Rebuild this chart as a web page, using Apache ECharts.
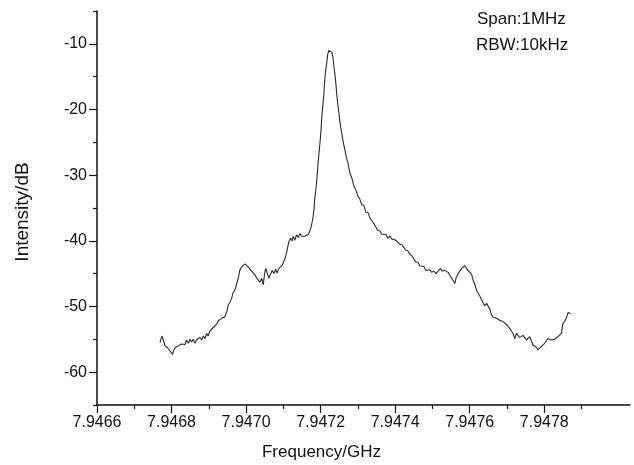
<!DOCTYPE html>
<html>
<head>
<meta charset="utf-8">
<script src="https://cdn.jsdelivr.net/npm/echarts@6/dist/echarts.min.js"></script>
<style>html,body{margin:0;padding:0;background:#fff;}#c{width:634px;height:465px;}</style>
</head>
<body>
<div id="c"></div>
<script>
// Frequency (GHz) of each sample
const freqGHz = [
7.946769,7.946774,7.946778,7.946782,7.946787,7.946791,7.946796,7.946803,7.946806,7.946811,
7.946814,7.946818,7.946823,7.946827,7.946831,7.946836,7.946840,7.946845,7.946849,7.946854,
7.946858,7.946863,7.946867,7.946872,7.946876,7.946881,7.946885,7.946890,7.946894,7.946898,
7.946903,7.946908,7.946912,7.946916,7.946921,7.946925,7.946930,7.946934,7.946939,7.946943,
7.946948,7.946952,7.946957,7.946961,7.946965,7.946970,7.946975,7.946979,7.946983,7.946988,
7.946992,7.946997,7.947001,7.947006,7.947010,7.947015,7.947019,7.947024,7.947028,7.947032,
7.947037,7.947042,7.947046,7.947050,7.947053,7.947057,7.947061,7.947066,7.947070,7.947075,
7.947079,7.947083,7.947088,7.947093,7.947097,7.947101,7.947106,7.947110,7.947115,7.947119,
7.947124,7.947126,7.947131,7.947135,7.947140,
7.947144,7.947149,7.947153,7.947158,7.947162,7.947167,7.947171,7.947175,
7.947179,7.947182,7.947184,7.947187,7.947190,7.947192,7.947195,7.947198,7.947201,7.947203,
7.947206,7.947209,7.947211,7.947214,7.947217,7.947219,7.947222,7.947225,7.947227,7.947230,
7.947233,7.947235,7.947238,7.947241,7.947243,7.947246,7.947249,
7.947253,7.947257,7.947261,7.947265,7.947269,7.947273,
7.947278,7.947284,7.947289,7.947294,7.947300,7.947305,7.947310,7.947316,7.947321,7.947327,
7.947332,7.947337,7.947343,
7.947348,7.947353,7.947359,7.947364,7.947369,7.947375,7.947380,7.947386,7.947391,7.947396,
7.947402,7.947407,7.947412,7.947418,7.947423,7.947428,7.947434,7.947439,7.947445,7.947450,
7.947455,7.947461,7.947466,7.947471,7.947477,7.947482,7.947487,7.947493,7.947498,7.947504,
7.947509,7.947514,
7.947522,7.947525,7.947528,7.947533,7.947538,7.947542,7.947546,7.947551,7.947555,7.947560,
7.947564,7.947569,7.947573,7.947578,7.947582,7.947587,7.947591,7.947595,7.947600,7.947605,
7.947609,7.947613,7.947618,7.947622,7.947627,7.947631,7.947636,7.947640,7.947645,7.947649,
7.947654,7.947658,7.947662,7.947667,7.947672,7.947676,7.947680,7.947685,7.947689,7.947694,
7.947698,7.947703,7.947707,7.947712,7.947716,7.947721,7.947725,7.947730,7.947734,7.947739,
7.947743,7.947747,7.947752,7.947756,7.947761,7.947765,7.947770,7.947774,7.947779,7.947783,
7.947788,7.947792,7.947797,7.947801,7.947806,7.947810,7.947814,7.947819,7.947823,7.947828,
7.947832,7.947837,7.947841,7.947846,7.947850,7.947855,7.947859,7.947864,7.947865,7.947870
];
// Intensity (dB) of each sample
const intensityDB = [
-55.5,-54.5,-55.1,-55.9,-56.1,-56.4,-56.6,-57.3,-56.6,-56.2,
-56.5,-56.0,-56.2,-55.7,-55.4,-55.8,-55.1,-55.6,-55.0,-55.4,
-55.0,-55.6,-55.1,-55.4,-54.7,-55.1,-54.5,-54.9,-54.1,-54.5,
-53.7,-54.0,-53.2,-53.5,-52.7,-52.2,-52.5,-51.8,-52.1,-51.6,
-50.8,-49.8,-49.3,-48.8,-47.9,-47.5,-46.5,-45.7,-44.5,-44.0,
-43.8,-43.5,-43.7,-44.0,-44.1,-44.6,-44.6,-45.2,-45.6,-45.5,
-46.3,-45.7,-46.7,-44.8,-44.2,-45.0,-45.7,-45.0,-44.5,-45.0,
-44.3,-44.9,-44.2,-44.5,-43.7,-43.2,-42.4,-41.4,-40.1,-39.6,
-40.0,-39.3,-39.9,-39.1,-39.5,
-38.9,-39.3,-39.6,-39.3,-39.4,-39.0,-38.5,-37.8,
-36.6,-35.3,-33.7,-32.3,-30.6,-29.0,-27.0,-25.2,-23.2,-21.3,
-19.3,-17.4,-15.5,-13.9,-12.6,-11.6,-11.0,-10.8,-10.9,-11.3,
-12.0,-13.2,-14.5,-16.1,-17.6,-19.2,-20.6,
-22.4,-23.7,-25.1,-26.1,-27.3,-28.1,
-29.6,-30.5,-31.6,-32.2,-33.2,-33.6,-34.5,-34.6,-35.6,-35.7,
-36.5,-36.8,-37.4,
-37.5,-38.4,-38.5,-39.0,-39.3,-39.0,-39.6,-39.3,-39.7,-39.4,
-39.9,-40.2,-40.5,-40.6,-41.0,-41.4,-41.5,-42.0,-42.3,-42.6,
-43.2,-43.3,-43.8,-44.1,-43.9,-44.5,-44.6,-44.4,-44.8,-44.6,
-45.0,-45.0,
-44.2,-44.6,-44.9,-44.5,-44.7,-44.8,-45.2,-45.5,-46.0,-46.5,
-45.5,-45.0,-44.7,-44.2,-44.5,-43.8,-44.0,-44.5,-44.5,-45.1,
-46.0,-46.5,-47.5,-47.8,-48.4,-48.9,-49.2,-49.9,-49.5,-49.3,
-50.4,-51.2,-51.6,-51.3,-51.8,-51.6,-52.1,-51.9,-52.3,-52.1,
-52.7,-52.5,-53.3,-53.1,-54.1,-54.9,-54.1,-54.4,-54.7,-54.9,
-54.4,-54.4,-55.1,-55.1,-54.6,-54.7,-55.9,-55.6,-56.2,-56.6,
-56.3,-56.1,-55.9,-55.6,-55.4,-54.9,-55.2,-55.1,-55.2,-55.0,
-54.7,-54.6,-54.4,-54.1,-52.6,-52.2,-51.8,-50.9,-50.8,-51.1
];
// Axis ticks
const xMajorTicks = [7.9466, 7.9468, 7.9470, 7.9472, 7.9474, 7.9476, 7.9478];
const xMinorTicks = [7.9467, 7.9469, 7.9471, 7.9473, 7.9475, 7.9477, 7.9479];
const yMajorTicks = [-60, -50, -40, -30, -20, -10];
const yMinorTicks = [-65, -55, -45, -35, -25, -15, -5];
const xRange = [7.9466, 7.94803];
const yRange = [-65, -5];
const annotations = ['Span:1MHz', 'RBW:10kHz'];

const FONT = '"Liberation Sans", Arial, sans-serif';
const TXT = '#111';
const points = freqGHz.map((f, i) => [f, intensityDB[i]]);

const chart = echarts.init(document.getElementById('c'), null, {renderer: 'canvas'});
const baseX = {
  type: 'value', min: xRange[0], max: xRange[1], splitLine: {show: false}
};
const baseY = {
  type: 'value', min: yRange[0], max: yRange[1], splitLine: {show: false}
};
chart.setOption({
  animation: false,
  backgroundColor: '#fff',
  grid: {left: 97, right: 4, top: 11, bottom: 60, containLabel: false, outerBoundsMode: 'none'},
  xAxis: [
    Object.assign({}, baseX, {
      position: 'bottom',
      name: 'Frequency/GHz', nameLocation: 'middle', nameGap: 39,
      nameTextStyle: {fontFamily: FONT, fontSize: 17, color: TXT, padding: [0, 84, 0, 0]},
      axisLine: {show: true, lineStyle: {color: '#111', width: 1.5}},
      axisTick: {show: true, inside: false, length: 8, customValues: xMajorTicks, lineStyle: {color: '#111', width: 1.2}},
      axisLabel: {show: true, customValues: xMajorTicks, margin: 10, fontFamily: FONT, fontSize: 16, color: TXT,
        formatter: v => Number(v).toFixed(4)}
    }),
    Object.assign({}, baseX, {
      position: 'bottom',
      axisLine: {show: false},
      axisTick: {show: true, inside: false, length: 4, customValues: xMinorTicks, lineStyle: {color: '#111', width: 1.2}},
      axisLabel: {show: false}
    })
  ],
  yAxis: [
    Object.assign({}, baseY, {
      position: 'left',
      name: 'Intensity/dB', nameLocation: 'middle', nameGap: 65,
      nameTextStyle: {fontFamily: FONT, fontSize: 19, color: TXT, padding: [0, 8, 0, 0]},
      axisLine: {show: true, lineStyle: {color: '#111', width: 1.5}},
      axisTick: {show: true, inside: false, length: 8, customValues: yMajorTicks, lineStyle: {color: '#111', width: 1.2}},
      axisLabel: {show: true, customValues: yMajorTicks, margin: 10, fontFamily: FONT, fontSize: 16, color: TXT}
    }),
    Object.assign({}, baseY, {
      position: 'left',
      axisLine: {show: false},
      axisTick: {show: true, inside: false, length: 4, customValues: yMinorTicks, lineStyle: {color: '#111', width: 1.2}},
      axisLabel: {show: false}
    })
  ],
  graphic: [
    {type: 'text', left: 477, top: 11, style: {text: annotations[0], fontFamily: FONT, fontSize: 17, fill: TXT}},
    {type: 'text', left: 476, top: 37, style: {text: annotations[1], fontFamily: FONT, fontSize: 17, fill: TXT}}
  ],
  series: [{
    type: 'line', xAxisIndex: 0, yAxisIndex: 0,
    data: points, showSymbol: false, symbol: 'none',
    lineStyle: {color: '#2a2a2a', width: 1.1}
  }]
});
</script>
</body>
</html>
